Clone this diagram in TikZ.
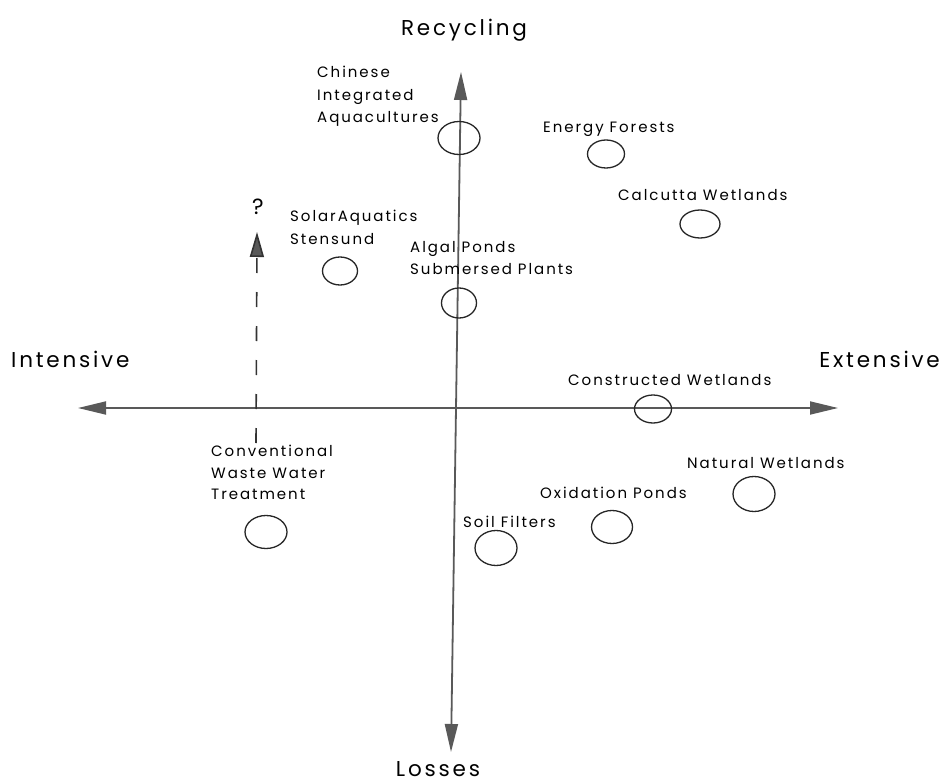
\documentclass[tikz,border=0pt]{standalone}
\usepackage{fontspec}
\usetikzlibrary{arrows.meta,shapes.geometric}
\newfontfamily\labfont[LetterSpace=13]{Poppins}
\newcommand{\smalllab}{\labfont\fontsize{15}{22.5}\selectfont}
\newcommand{\biglab}{\labfont\fontsize{21.5}{24}\selectfont}
\tikzset{
  axis/.style={draw=black!65, line width=1.8pt,
    -{Triangle[length=28pt,width=13pt,fill=black!65]}},
  site/.style n args={2}{ellipse, draw=black!85, line width=1.3pt,
    inner sep=0pt, minimum width=#1pt, minimum height=#2pt},
  lab/.style={font=\smalllab, inner sep=0pt, align=left},
  axlab/.style={font=\biglab, inner sep=0pt},
}
\begin{document}
\begin{tikzpicture}[x=1pt,y=-1pt]
  \useasboundingbox (0,0) rectangle (944,783);
  \fill[white] (0,0) rectangle (944,783);

  % axes
  \coordinate (L) at (78,408);
  \coordinate (R) at (838,408);
  \coordinate (T) at (461,72);
  \coordinate (B) at (451,752);
  \coordinate (O) at (456,408);
  \draw[axis] (O) -- (L);
  \draw[axis] (O) -- (R);
  \draw[axis] (O) -- (T);
  \draw[axis] (O) -- (B);

  \node[axlab, anchor=base] (recycling) at (464,36) {Recycling};
  \node[axlab, anchor=base] (losses) at (438,776) {Losses};
  \node[axlab, anchor=base west] (intensive) at (11,367) {Intensive};
  \node[axlab, anchor=base east] (extensive) at (940,367) {Extensive};

  % dashed upward arrow from conventional treatment
  \coordinate (dstart) at (256,443);
  \coordinate (dend) at (257,232);
  \draw[draw=black!80, line width=1.6pt, dash pattern=on 15pt off 19pt,
    -{Triangle[length=25pt,width=14pt,fill=black!65]}] (dstart) -- (dend);
  \node[axlab, font=\labfont\fontsize{22}{24}\selectfont] (q) at (258,207) {?};

  % treatment systems
  \node[site={42}{33}] (chinese) at (459,138) {};
  \node[site={37}{28}] (energy) at (606,154) {};
  \node[site={40}{28}] (calcutta) at (700,224) {};
  \node[site={35}{28}] (solar) at (340,271) {};
  \node[site={35}{30}] (algal) at (459,303) {};
  \node[site={37}{28}] (constructed) at (653,409) {};
  \node[site={42}{35}] (natural) at (754,494) {};
  \node[site={41}{33}] (oxidation) at (612,527) {};
  \node[site={42}{35}] (soil) at (496,548) {};
  \node[site={42}{33}] (conventional) at (266,532) {};

  % labels
  \node[lab, anchor=north west] (tchinese) at (317,66) {Chinese\\Integrated\\Aquacultures};
  \node[lab, anchor=base west] (tenergy) at (543,133) {Energy Forests};
  \node[lab, anchor=base west] (tcalcutta) at (618,200.5) {Calcutta Wetlands};
  \node[lab, anchor=north west] (tsolar) at (290,210) {SolarAquatics\\Stensund};
  \node[lab, anchor=north west] (talgal) at (410,241) {Algal Ponds\\Submersed Plants};
  \node[lab, anchor=base west] (tconstructed) at (568,385) {Constructed Wetlands};
  \node[lab, anchor=north west, font=\labfont\fontsize{15}{21.5}\selectfont] (tconventional) at (211,445) {Conventional\\Waste Water\\Treatment};
  \node[lab, anchor=base west] (tnatural) at (687,468) {Natural Wetlands};
  \node[lab, anchor=base west] (toxidation) at (540,498) {Oxidation Ponds};
  \node[lab, anchor=base west] (tsoil) at (463,527) {Soil Filters};
\end{tikzpicture}
\end{document}
